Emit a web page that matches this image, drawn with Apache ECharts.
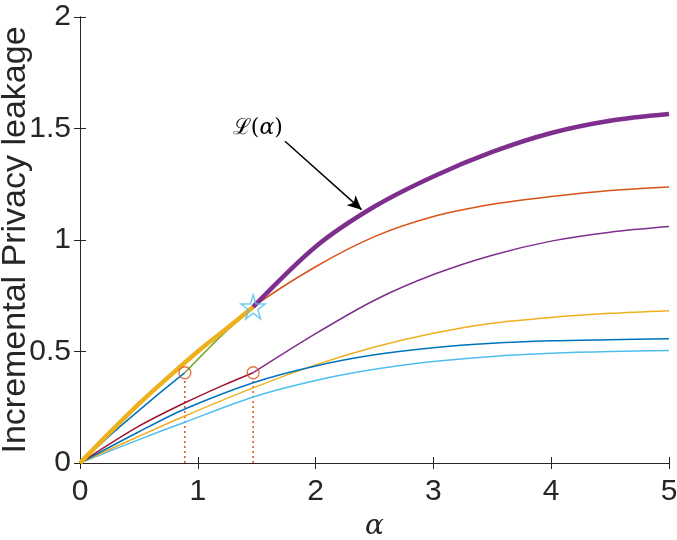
<!DOCTYPE html>
<html>
<head>
<meta charset="utf-8">
<script src="https://cdn.jsdelivr.net/npm/echarts@6/dist/echarts.min.js"></script>
<style>html,body{margin:0;padding:0;background:#fff;}#c{width:677px;height:540px;}</style>
</head>
<body>
<div id="c"></div>
<script>
// ---- data ----
var xTicks = [0, 1, 2, 3, 4, 5];
var yTicks = [0, 0.5, 1, 1.5, 2];

var xLong = [0, 0.5, 0.89, 1.47, 2, 2.5, 3, 3.5, 4, 4.5, 5];
var lightBlueY = [0, 0.105, 0.183, 0.296, 0.37, 0.42, 0.455, 0.478, 0.492, 0.5, 0.504];
var yellowY    = [0, 0.12, 0.211, 0.337, 0.44, 0.52, 0.582, 0.627, 0.653, 0.671, 0.683];
var blueY      = [0, 0.14, 0.242, 0.36, 0.435, 0.485, 0.517, 0.537, 0.548, 0.553, 0.557];

var xOrange = [0, 0.5, 1, 1.47, 2, 2.5, 3, 3.5, 4, 4.5, 5];
var orangeY = [0, 0.262, 0.497, 0.70, 0.88, 1.015, 1.105, 1.16, 1.195, 1.222, 1.238];

var xRed = [0, 0.5, 0.89, 1.2, 1.47];
var redY = [0, 0.165, 0.27, 0.345, 0.405];

var xPurpleThin = [1.47, 2, 2.5, 3, 3.5, 4, 4.5, 5];
var purpleThinY = [0.405, 0.58, 0.73, 0.845, 0.932, 0.995, 1.035, 1.06];

var xBlueShort = [0, 0.3, 0.6, 0.89];
var blueShortY = [0, 0.145, 0.28, 0.405];

var xGreen = [0.89, 1.18, 1.47];
var greenY = [0.405, 0.56, 0.70];

var xYellowThick = [0, 0.25, 0.5, 0.75, 1.0, 1.25, 1.47];
var yellowThickY = [0, 0.135, 0.265, 0.385, 0.50, 0.605, 0.70];

var xL = [1.47, 2, 2.5, 3, 3.5, 4, 4.5, 5];
var LY = [0.70, 0.97, 1.15, 1.285, 1.395, 1.48, 1.535, 1.565];

var circleX = [0.89, 1.47];
var circleY = [0.405, 0.405];
var starX = [1.47];
var starY = [0.70];

var arrowFrom = [1.74, 1.443];
var arrowTo = [2.39, 1.136];
var labelPos = [1.51, 1.50];

function pairs(xs, ys) { return xs.map(function (x, i) { return [x, ys[i]]; }); }

var FONT = 'Liberation Sans';
var AX = '#262626';
var STAR = 'path://M50,2 L61.8,37.6 L99,37.6 L68.9,59.6 L80.4,95 L50,73.2 L19.6,95 L31.1,59.6 L1,37.6 L38.2,37.6 Z';

function line(name, xs, ys, color, width, z) {
  return {
    name: name, type: 'line', data: pairs(xs, ys), showSymbol: false, symbol: 'none',
    smooth: 0.3, z: z || 2,
    lineStyle: { color: color, width: width }, silent: true
  };
}

var dotted = [];
circleX.forEach(function (x, i) {
  dotted.push({
    type: 'line', data: [[x, 0], [x, circleY[i] - 0.03]], symbol: 'none', z: 1, silent: true,
    lineStyle: { color: '#D95319', width: 1.5, type: [2, 3] }
  });
});

var series = dotted.concat([
  line('lb', xLong, lightBlueY, '#4DBEEE', 1.5),
  line('ye', xLong, yellowY, '#EDB120', 1.5),
  line('bl', xLong, blueY, '#0072BD', 1.5),
  line('rd', xRed, redY, '#A2142F', 1.5),
  line('pt', xPurpleThin, purpleThinY, '#7E2F8E', 1.5),
  line('or', xOrange, orangeY, '#D95319', 1.5),
  line('bs', xBlueShort, blueShortY, '#0072BD', 1.5, 3),
  line('gr', xGreen, greenY, '#77AC30', 1.5, 3),
  line('yt', xYellowThick, yellowThickY, '#EDB120', 4.5, 4),
  (function () {
    var s = line('L', xL, LY, '#7E2F8E', 4.5, 4);
    s.markLine = {
      silent: true, symbol: ['none', 'arrow'], symbolSize: [10, 14],
      lineStyle: { color: '#000', width: 1.5, type: 'solid' }, label: { show: false },
      data: [[{ coord: arrowFrom }, { coord: arrowTo }]]
    };
    s.markPoint = {
      silent: true, symbol: 'circle', symbolSize: 1, itemStyle: { color: 'rgba(0,0,0,0)' },
      label: {
        show: true, position: 'inside', formatter: '{s|ℒ}{p|(}{a|α}{p|)}',
        rich: {
          s: { fontFamily: 'DejaVu Serif', fontSize: 22, color: '#000' },
          p: { fontFamily: 'DejaVu Serif', fontSize: 22, color: '#000' },
          a: { fontFamily: 'DejaVu Serif', fontStyle: 'italic', fontSize: 22, color: '#000' }
        }
      },
      data: [{ coord: labelPos }]
    };
    return s;
  })(),
  {
    type: 'scatter', data: pairs(circleX, circleY), symbol: 'circle', symbolSize: 12, z: 5, silent: true,
    itemStyle: { color: 'rgba(0,0,0,0)', borderColor: '#D95319', borderWidth: 1.4 }
  },
  {
    type: 'scatter', data: pairs(starX, starY), symbol: STAR, symbolSize: 24, z: 6, silent: true,
    itemStyle: { color: 'rgba(0,0,0,0)', borderColor: '#4DBEEE', borderWidth: 1.5 }
  }
]);

var axisCommon = {
  axisLine: { show: true, lineStyle: { color: AX, width: 1 } },
  axisTick: { show: true, inside: true, length: 6, lineStyle: { color: AX } },
  splitLine: { show: false }
};

var chart = echarts.init(document.getElementById('c'), null, { renderer: 'canvas' });
chart.setOption({
  animation: false,
  backgroundColor: '#fff',
  grid: { left: 80, right: 8, top: 17, bottom: 77, containLabel: false, outerBoundsMode: 'none' },
  xAxis: [
    Object.assign({
      type: 'value', min: xTicks[0], max: xTicks[xTicks.length - 1], interval: 1, position: 'bottom',
      name: 'α', nameLocation: 'middle', nameGap: 50, nameMoveOverlap: false,
      nameTextStyle: { fontFamily: 'DejaVu Serif', fontStyle: 'italic', fontSize: 28, color: AX },
      axisLabel: { fontFamily: FONT, fontSize: 30, color: AX, margin: 14 }
    }, axisCommon),
    Object.assign({
      type: 'value', min: xTicks[0], max: xTicks[xTicks.length - 1], interval: 1, position: 'top',
      axisLabel: { show: false }
    }, axisCommon)
  ],
  yAxis: [
    Object.assign({
      type: 'value', min: yTicks[0], max: yTicks[yTicks.length - 1], interval: 0.5, position: 'left',
      name: 'Incremental Privacy leakage', nameLocation: 'middle', nameGap: 47, nameMoveOverlap: false,
      nameTextStyle: { fontFamily: FONT, fontSize: 34, color: AX },
      axisLabel: { fontFamily: FONT, fontSize: 30, color: AX, margin: 9 }
    }, axisCommon),
    Object.assign({
      type: 'value', min: yTicks[0], max: yTicks[yTicks.length - 1], interval: 0.5, position: 'right',
      axisLabel: { show: false }
    }, axisCommon)
  ],
  series: series
});
</script>
</body>
</html>
